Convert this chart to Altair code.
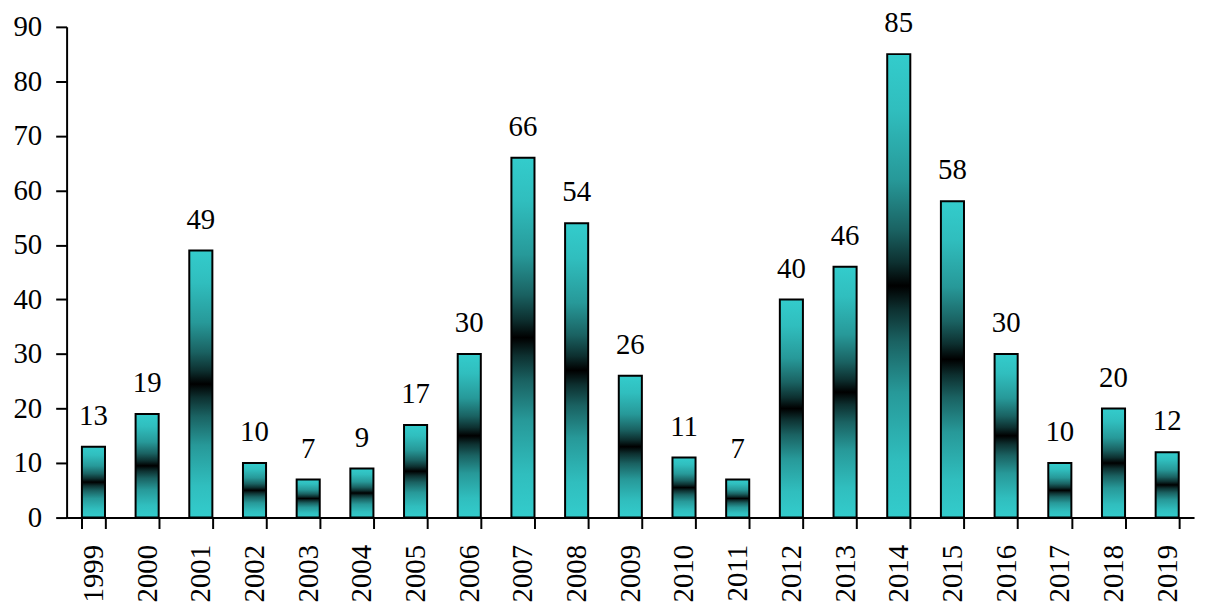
import altair as alt
import pandas as pd

years = [str(y) for y in range(1999, 2020)]
values = [13, 19, 49, 10, 7, 9, 17, 30, 66, 54, 26, 11, 7, 40, 46, 85, 58, 30, 10, 20, 12]

df = pd.DataFrame({"year": years, "value": values})

font = "Liberation Serif"
fs = 29
stops_half = [(0.0, "#33CCCC"), (0.12, "#30BEBE"), (0.27, "#279999"), (0.38, "#1A6262"), (0.45, "#0D3030"), (0.5, "#000000")]
stops = [{"offset": o, "color": c} for o, c in stops_half]
stops += [{"offset": round(1 - o, 3), "color": c} for o, c in reversed(stops_half[:-1])]
grad = {"gradient": "linear", "x1": 0, "y1": 0, "x2": 0, "y2": 1, "stops": stops}

x = alt.X("year:N", sort=None, title=None,
          scale=alt.Scale(paddingInner=0.57, paddingOuter=0.285),
          axis=alt.Axis(labelAngle=-90, tickBand="extent", labelPadding=16))
y = alt.Y("value:Q", title=None,
          scale=alt.Scale(domain=[0, 90]),
          axis=alt.Axis(values=list(range(0, 91, 10)), grid=False, labelPadding=14))

bars = alt.Chart(df).mark_bar(color=grad, stroke="black", strokeWidth=2).encode(x=x, y=y)
labels = alt.Chart(df).mark_text(font=font, fontSize=fs, color="black", baseline="alphabetic", dy=-22).encode(
    x=alt.X("year:N", sort=None), y=alt.Y("value:Q"), text="value:Q")

chart = (
    (bars + labels)
    .properties(width=1135, height=494,
                autosize=alt.AutoSizeParams(type="none"),
                padding={"left": 59, "top": 17, "right": 6, "bottom": 84})
    .configure_view(stroke=None)
    .configure_axis(labelFont=font, labelFontSize=fs, labelColor="black",
                    tickColor="black", tickSize=11, tickWidth=2,
                    domainColor="black", domainWidth=2, grid=False)
)

chart.save("out.html", embed_options={"renderer": "svg", "actions": False})
